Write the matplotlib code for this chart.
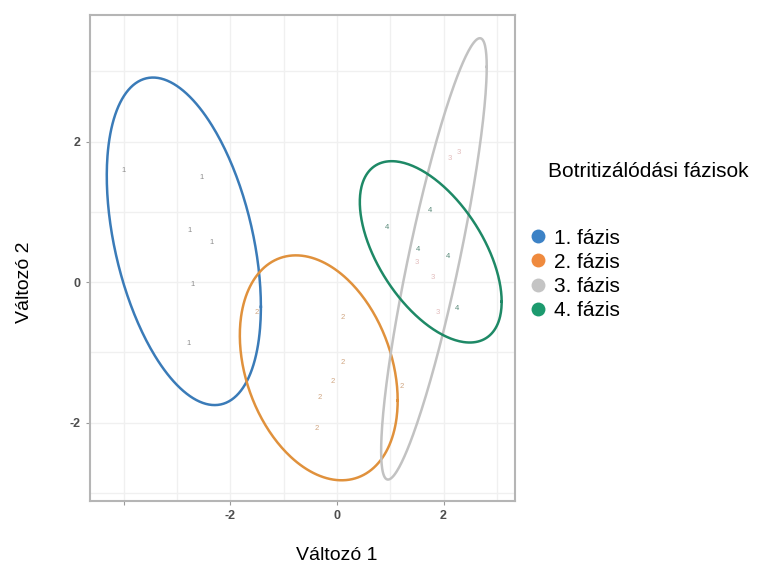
import numpy as np
import matplotlib.pyplot as plt
from matplotlib.lines import Line2D

plt.rcParams['font.family'] = ['Liberation Sans', 'DejaVu Sans']
plt.rcParams['axes.unicode_minus'] = False

# phase labels and colours
phases = ["1. fázis", "2. fázis", "3. fázis", "4. fázis"]
ell_colors = ["#3a7bb8", "#e0913c", "#c2c2c2", "#1e8966"]
dot_colors = ["#3c82c6", "#ef8a3e", "#c4c4c4", "#1c9a6e"]
txt_colors = ["#8c8c8c", "#d0a682", "#e2bcbc", "#5a8a7a"]

# observations (Változó 1, Változó 2) per phase
x1 = [-4.0, -2.53, -2.76, -2.35, -2.70, -2.78]
y1 = [1.59, 1.49, 0.74, 0.57, -0.04, -0.88]
x2 = [-1.50, 0.11, 0.11, -0.08, -0.32, -0.38, 1.22]
y2 = [-0.43, -0.50, -1.15, -1.42, -1.64, -2.08, -1.48]
x3 = [2.12, 2.29, 1.50, 1.80, 1.89]
y3 = [1.76, 1.84, 0.28, 0.07, -0.43]
x4 = [1.74, 0.94, 1.52, 2.08, 2.25]
y4 = [1.02, 0.78, 0.46, 0.37, -0.37]

# confidence ellipses: centre, half-extent in x / y, correlation
ell_cx = [-2.87, -0.34, 1.82, 1.76]
ell_cy = [0.58, -1.22, 0.33, 0.43]
ell_sx = [1.445, 1.48, 0.99, 1.33]
ell_sy = [2.33, 1.60, 3.14, 1.29]
ell_r = [-0.40, -0.29, 0.87, -0.55]

xs = [x1, x2, x3, x4]
ys = [y1, y2, y3, y4]

fig = plt.figure(figsize=(7.81, 5.72), dpi=100)
ax = fig.add_axes([0.1152, 0.1241, 0.5442, 0.8497])

t = np.linspace(0, 2 * np.pi, 300)
for i in range(4):
    ex = ell_cx[i] + ell_sx[i] * np.cos(t)
    ey = ell_cy[i] + ell_sy[i] * (ell_r[i] * np.cos(t) + np.sqrt(1 - ell_r[i] ** 2) * np.sin(t))
    ax.plot(ex, ey, color=ell_colors[i], lw=1.8, zorder=3)
    for px, py in zip(xs[i], ys[i]):
        ax.text(px, py, str(i + 1), color=txt_colors[i], fontsize=5.5,
                ha='center', va='center', zorder=4)

ax.set_xlim(-4.63, 3.34)
ax.set_ylim(-3.115, 3.80)
ax.set_xticks([-4, -2, 0, 2])
ax.set_xticklabels(["", "-2", "0", "2"])
ax.set_yticks([-2, 0, 2])
ax.set_xticks([-3, -1, 1, 3], minor=True)
ax.set_yticks([-3, -1, 1, 3], minor=True)
ax.grid(True, which='both', color='#f0f0f0', lw=1)
ax.set_axisbelow(True)
ax.tick_params(which='major', length=3, color='#9a9a9a', labelcolor='#4d4d4d',
               labelsize=9)
ax.tick_params(which='minor', length=0)
for lab in ax.get_xticklabels() + ax.get_yticklabels():
    lab.set_fontweight('bold')
for sp in ax.spines.values():
    sp.set_color('#b5b5b5')
    sp.set_linewidth(1.5)

ax.set_xlabel("Változó 1", fontsize=14)
ax.xaxis.set_label_coords(0.58, -0.095)
ax.set_ylabel("Változó 2", fontsize=14)
ax.yaxis.set_label_coords(-0.135, 0.45)

fig.text(0.702, 0.700, "Botritizálódási fázisok", fontsize=15, va='center')
handles = [Line2D([], [], marker='o', ls='', markersize=10, color=c,
                  markeredgewidth=0) for c in dot_colors]
fig.legend(handles, phases, loc='upper left', bbox_to_anchor=(0.665, 0.615),
           frameon=False, fontsize=15, handletextpad=0.25, labelspacing=0.25,
           handlelength=1.0, borderaxespad=0)

fig.savefig("out.png", dpi=100, facecolor='white')
